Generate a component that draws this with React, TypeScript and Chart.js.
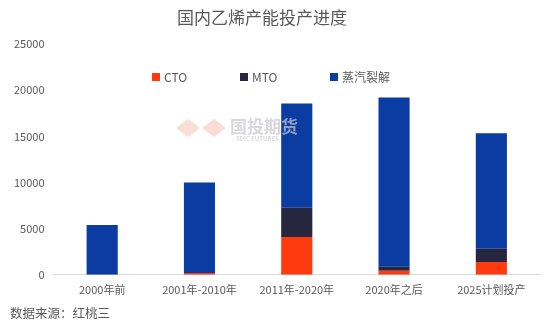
import React, { useEffect, useRef } from "react";
import { Chart, registerables } from "chart.js";

Chart.register(...registerables);

const categories = ["2000年前", "2001年-2010年", "2011年-2020年", "2020年之后", "2025计划投产"];
const ctoValues = [0, 200, 4100, 450, 1400];
const mtoValues = [0, 0, 3150, 420, 1420];
const steamValues = [5400, 9800, 11300, 18330, 12520];
const yTicks = [0, 5000, 10000, 15000, 20000, 25000];

const titleText = "国内乙烯产能投产进度";
const sourceText = "数据来源：红桃三";
const FONT = '"Noto Sans CJK SC", "Noto Sans", sans-serif';

const decorPlugin = {
  id: "decor",
  afterDatasetsDraw(chart: any) {
    const ctx = chart.ctx;
    ctx.save();
    const wx = 236;
    const wy = 128;
    ctx.fillStyle = "rgba(245,180,160,0.45)";
    ctx.beginPath();
    ctx.moveTo(wx - 60, wy);
    ctx.lineTo(wx - 48, wy - 9);
    ctx.lineTo(wx - 36, wy);
    ctx.lineTo(wx - 48, wy + 9);
    ctx.closePath();
    ctx.fill();
    ctx.beginPath();
    ctx.moveTo(wx - 34, wy);
    ctx.lineTo(wx - 22, wy - 9);
    ctx.lineTo(wx - 10, wy);
    ctx.lineTo(wx - 22, wy + 9);
    ctx.closePath();
    ctx.fill();
    ctx.fillStyle = "rgba(200,200,205,0.7)";
    ctx.font = "bold 17px " + FONT;
    ctx.textAlign = "left";
    ctx.textBaseline = "middle";
    ctx.fillText("国投期货", wx - 6, wy - 1);
    ctx.font = "bold 6px " + FONT;
    ctx.fillText("SDIC FUTURES", wx, wy + 11);
    ctx.restore();
  },
  afterDraw(chart: any) {
    const ctx = chart.ctx;
    ctx.save();
    ctx.fillStyle = "#595959";
    ctx.font = "17px " + FONT;
    ctx.textAlign = "center";
    ctx.textBaseline = "middle";
    ctx.fillText(titleText, 262, 18);
    const starts = [152, 240, 330];
    ctx.font = "12px " + FONT;
    ctx.textAlign = "left";
    chart.data.datasets.forEach((ds: any, i: number) => {
      const x = starts[i];
      const y = 77;
      ctx.fillStyle = ds.backgroundColor;
      ctx.fillRect(x, y - 4, 8, 8);
      ctx.fillStyle = "#595959";
      ctx.fillText(ds.label, x + 12, y);
    });
    ctx.font = "12.5px " + FONT;
    ctx.fillStyle = "#595959";
    ctx.fillText(sourceText, 10, 313);
    ctx.restore();
  },
};

export default function App() {
  const ref = useRef<HTMLCanvasElement>(null);
  useEffect(() => {
    if (!ref.current) return;
    const chart = new Chart(ref.current, {
      type: "bar",
      data: {
        labels: categories,
        datasets: [
          { label: "CTO", data: ctoValues, backgroundColor: "#FF3A0F" },
          { label: "MTO", data: mtoValues, backgroundColor: "#262640" },
          { label: "蒸汽裂解", data: steamValues, backgroundColor: "#0B3CA2" },
        ],
      },
      options: {
        responsive: false,
        animation: false,
        layout: { padding: { top: 44, left: 5, right: 7, bottom: 24 } },
        plugins: {
          legend: { display: false },
          title: { display: false },
          tooltip: { enabled: false },
        },
        datasets: { bar: { barPercentage: 0.32, categoryPercentage: 1 } },
        scales: {
          x: {
            stacked: true,
            grid: { display: false, drawTicks: false },
            border: { display: true, color: "#d9d9d9" },
            ticks: { color: "#595959", font: { size: 11, family: FONT }, padding: 8, maxRotation: 0, autoSkip: false },
          },
          y: {
            stacked: true,
            min: 0,
            max: 25000,
            afterBuildTicks: (axis: any) => {
              axis.ticks = yTicks.map((v) => ({ value: v }));
            },
            grid: { display: false, drawTicks: false },
            border: { display: false },
            ticks: {
              color: "#595959",
              font: { size: 11, family: FONT },
              padding: 9,
              callback: (v: any) => String(v),
            },
          },
        },
      },
      plugins: [decorPlugin],
    });
    return () => chart.destroy();
  }, []);
  return (
    <div style={{ position: "fixed", left: 0, top: 0, width: 547, height: 328, background: "#fff" }}>
      <canvas ref={ref} width={547} height={328} style={{ display: "block" }} />
    </div>
  );
}
